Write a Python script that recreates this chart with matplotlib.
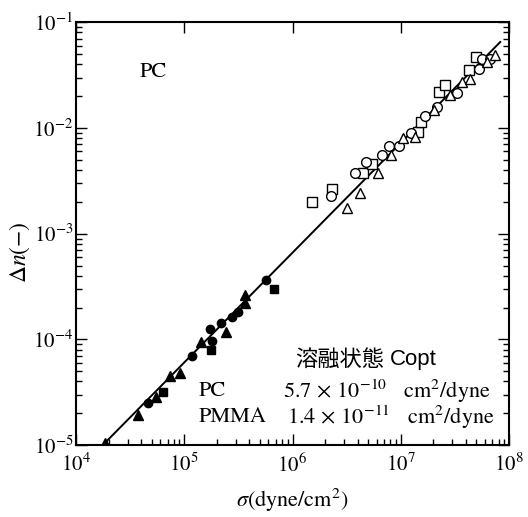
import matplotlib
matplotlib.use("Agg")
import matplotlib.pyplot as plt
from matplotlib.ticker import LogLocator, NullFormatter

plt.rcParams['font.family'] = ['STIXGeneral', 'DejaVu Serif']
plt.rcParams['mathtext.fontset'] = 'stix'

# PMMA (filled markers)
fill_tri_x = [1.85e4, 3.7e4, 5.5e4, 7.4e4, 9.2e4, 1.43e5, 2.43e5, 3.63e5, 3.63e5]
fill_tri_y = [1.05e-5, 1.92e-5, 2.85e-5, 4.5e-5, 4.8e-5, 9.4e-5, 1.17e-4, 2.62e-4, 2.2e-4]
fill_cir_x = [4.6e4, 1.18e5, 1.81e5, 1.73e5, 2.18e5, 2.75e5, 3.13e5, 5.65e5]
fill_cir_y = [2.5e-5, 6.95e-5, 9.6e-5, 1.25e-4, 1.43e-4, 1.62e-4, 1.81e-4, 3.63e-4]
fill_sq_x = [6.3e4, 1.77e5, 6.7e5]
fill_sq_y = [3.17e-5, 7.9e-5, 3.0e-4]

# PC (open markers)
open_sq_x = [1.52e6, 2.33e6, 4.48e6, 5.42e6, 1.43e7, 1.53e7, 2.28e7, 2.59e7, 4.3e7, 4.98e7]
open_sq_y = [1.99e-3, 2.64e-3, 3.73e-3, 4.54e-3, 9.1e-3, 1.13e-2, 2.18e-2, 2.54e-2, 3.52e-2, 4.67e-2]
open_cir_x = [2.28e6, 3.79e6, 4.78e6, 6.7e6, 7.77e6, 9.6e6, 1.24e7, 1.66e7, 2.18e7, 3.34e7, 5.31e7, 5.65e7, 6.7e7]
open_cir_y = [2.27e-3, 3.73e-3, 4.74e-3, 5.52e-3, 6.72e-3, 6.7e-3, 8.9e-3, 1.29e-2, 1.57e-2, 2.13e-2, 3.6e-2, 4.47e-2, 4.47e-2]
open_tri_x = [3.2e6, 4.21e6, 6.15e6, 8.09e6, 1.04e7, 1.34e7, 2.05e7, 2.88e7, 3.71e7, 4.39e7, 6.28e7, 7.45e7]
open_tri_y = [1.74e-3, 2.42e-3, 3.73e-3, 5.52e-3, 8.0e-3, 8.2e-3, 1.47e-2, 2.04e-2, 2.71e-2, 2.89e-2, 4.19e-2, 4.88e-2]

line_x = [1.85e4, 8.3e7]
line_y = [1.05e-5, 6.5e-2]

fig = plt.figure(figsize=(5.28, 5.17), dpi=100)
ax = fig.add_axes([0.144, 0.139, 0.820, 0.818])

ax.plot(line_x, line_y, color='black', lw=1.4, zorder=2)

ax.plot(fill_tri_x, fill_tri_y, '^', color='black', ms=6.5, ls='none', zorder=3)
ax.plot(fill_cir_x, fill_cir_y, 'o', color='black', ms=6, ls='none', zorder=3)
ax.plot(fill_sq_x, fill_sq_y, 's', color='black', ms=5.5, ls='none', zorder=3)

ax.plot(open_sq_x, open_sq_y, 's', mfc='white', mec='black', mew=1.0, ms=7, ls='none', zorder=3)
ax.plot(open_cir_x, open_cir_y, 'o', mfc='white', mec='black', mew=1.0, ms=7, ls='none', zorder=3)
ax.plot(open_tri_x, open_tri_y, '^', mfc='white', mec='black', mew=1.0, ms=7.5, ls='none', zorder=3)

ax.set_xscale('log')
ax.set_yscale('log')
ax.set_xlim(1e4, 1e8)
ax.set_ylim(1e-5, 1e-1)

ax.xaxis.set_major_locator(LogLocator(base=10, numticks=10))
ax.yaxis.set_major_locator(LogLocator(base=10, numticks=10))
ax.xaxis.set_minor_locator(LogLocator(base=10, subs=range(2, 10), numticks=20))
ax.yaxis.set_minor_locator(LogLocator(base=10, subs=range(2, 10), numticks=20))
ax.xaxis.set_minor_formatter(NullFormatter())
ax.yaxis.set_minor_formatter(NullFormatter())

ax.tick_params(which='both', direction='in', top=True, right=True, width=1.0)
ax.tick_params(which='major', length=8, labelsize=15, pad=4)
ax.tick_params(which='minor', length=4, top=False)
ax.tick_params(axis='x', which='major', pad=6)
ax.tick_params(axis='y', which='major', pad=2)
for s in ax.spines.values():
    s.set_linewidth(1.5)

ax.set_xlabel(r'$\sigma$(dyne/cm$^2$)', fontsize=16)
ax.xaxis.set_label_coords(0.5, -0.098)
ax.set_ylabel(r'$\mathit{Δn}$($-$)', fontsize=17)
ax.yaxis.set_label_coords(-0.102, 0.456)

ax.text(0.148, 0.882, 'PC', transform=ax.transAxes, fontsize=16, va='center')
ax.text(0.506, 0.203, '溶融状態', transform=ax.transAxes, fontsize=16,
        va='center', family=['Noto Sans CJK JP', 'DejaVu Sans'])
ax.text(0.725, 0.203, 'Copt', transform=ax.transAxes, fontsize=16,
        va='center', family=['Liberation Sans', 'DejaVu Sans'])
ax.text(0.282, 0.128, 'PC', transform=ax.transAxes, fontsize=16, va='center')
ax.text(0.282, 0.066, 'PMMA', transform=ax.transAxes, fontsize=16, va='center')
ax.text(0.478, 0.128, r'5.7$\,\times\,$10$^{-10}$   cm$^2$/dyne', transform=ax.transAxes,
        fontsize=16, va='center')
ax.text(0.487, 0.066, r'1.4$\,\times\,$10$^{-11}$   cm$^2$/dyne', transform=ax.transAxes,
        fontsize=16, va='center')

fig.savefig('out.png', dpi=100)
